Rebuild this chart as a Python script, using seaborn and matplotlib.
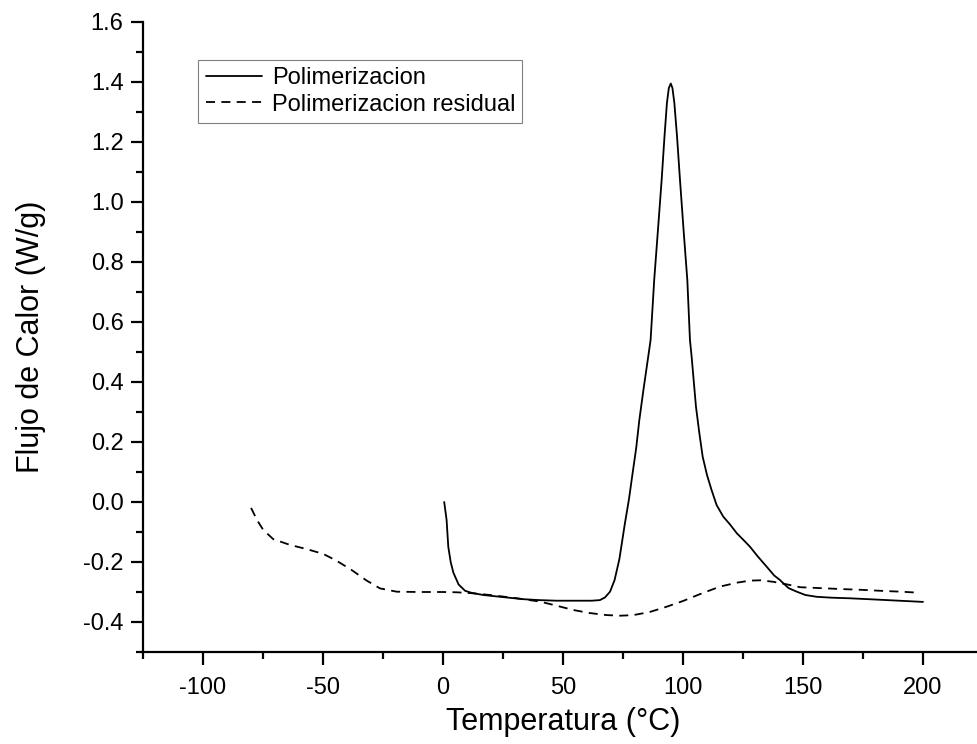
import matplotlib
matplotlib.use("Agg")
import matplotlib.pyplot as plt
import seaborn as sns
import pandas as pd
from matplotlib.ticker import MultipleLocator

# Data
temp_poli = [0.5, 1.5, 2.2, 3.2, 4.3, 6.5, 9.2, 12, 16.8, 25, 33.5, 40, 47.4, 55, 62, 65.4, 67.5,
             69.6, 71.5, 73.5, 75.8, 77.5, 79.0, 80.5, 81.8, 83.5, 85.5, 86.5, 88.0, 89.5, 91.1,
             92.3, 93.3, 94.1, 94.9, 95.6, 96.4, 97.5, 98.75, 100.3, 101.8, 102.9, 103.6, 105.4,
             106.8, 108.2, 110.0, 111.9, 114.0, 116.8, 119.6, 122.4, 125.0, 127.9, 131.0, 134.9,
             138.0, 140.4, 141.8, 144.0, 147.4, 151.0, 155.7, 162.0, 169.6, 180.0, 190.0, 200.0]
flujo_poli = [0.0, -0.06, -0.149, -0.2, -0.235, -0.275, -0.296, -0.303, -0.31, -0.317, -0.324,
              -0.327, -0.329, -0.329, -0.329, -0.327, -0.318, -0.299, -0.26, -0.19, -0.071, 0.01,
              0.096, 0.18, 0.273, 0.373, 0.484, 0.54, 0.74, 0.9, 1.073, 1.22, 1.33, 1.38, 1.395,
              1.38, 1.33, 1.22, 1.073, 0.9, 0.74, 0.54, 0.484, 0.318, 0.23, 0.151, 0.09, 0.04,
              -0.01, -0.049, -0.075, -0.104, -0.125, -0.149, -0.18, -0.216, -0.245, -0.26,
              -0.271, -0.287, -0.299, -0.31, -0.316, -0.319, -0.321, -0.325, -0.329, -0.333]

temp_resid = [-80, -79.7, -77.5, -74.9, -70.7, -63.75, -56.8, -49.9, -44.3, -38.0, -31.8, -26.25,
              -19.3, -10, 0, 5.7, 12, 19.6, 30, 40.4, 47, 54.3, 61, 68.2, 74, 79.3, 86, 93.2,
              100, 107.1, 115.4, 122.4, 127.9, 132.5, 137.6, 143, 148.75, 157, 165.4, 175,
              184.9, 191, 197.4]
flujo_resid = [-0.02, -0.024, -0.06, -0.093, -0.124, -0.143, -0.157, -0.173, -0.196, -0.227,
               -0.262, -0.288, -0.299, -0.3, -0.3, -0.301, -0.304, -0.31, -0.32, -0.332, -0.345,
               -0.36, -0.37, -0.377, -0.379, -0.377, -0.367, -0.349, -0.33, -0.307, -0.282,
               -0.269, -0.262, -0.261, -0.266, -0.274, -0.284, -0.287, -0.29, -0.293, -0.297,
               -0.299, -0.302]

label_poli = "Polimerizacion"
label_resid = "Polimerizacion residual"
x_label = "Temperatura (°C)"
y_label = "Flujo de Calor (W/g)"
x_ticks = [-100, -50, 0, 50, 100, 150, 200]
y_ticks = [-0.4, -0.2, 0.0, 0.2, 0.4, 0.6, 0.8, 1.0, 1.2, 1.4, 1.6]

df_poli = pd.DataFrame({"T": temp_poli, "F": flujo_poli})
df_resid = pd.DataFrame({"T": temp_resid, "F": flujo_resid})

sns.set_style("ticks")
plt.rcParams["font.family"] = ["Liberation Sans", "DejaVu Sans"]
plt.rcParams["text.color"] = "black"
plt.rcParams["axes.labelcolor"] = "black"

fig = plt.figure(figsize=(9.77, 7.44), dpi=100)
ax = fig.add_axes([143 / 977, 92 / 744, 840 / 977, 630 / 744])

sns.lineplot(data=df_poli, x="T", y="F", ax=ax, color="black", linewidth=1.3,
             label=label_poli, sort=False, estimator=None)
sns.lineplot(data=df_resid, x="T", y="F", ax=ax, color="black", linewidth=1.3,
             label=label_resid, sort=False, estimator=None)
ax.lines[1].set_linestyle((0, (5, 3.5)))

ax.set_xlim(-125, 225)
ax.set_ylim(-0.5, 1.6)
ax.set_xticks(x_ticks)
ax.set_yticks(y_ticks)
ax.set_xticklabels([str(t) for t in x_ticks])
ax.set_yticklabels([f"{t:.1f}" for t in y_ticks])
ax.xaxis.set_minor_locator(MultipleLocator(25))
ax.yaxis.set_minor_locator(MultipleLocator(0.1))

for s in ["top", "right"]:
    ax.spines[s].set_visible(False)
for s in ["left", "bottom"]:
    ax.spines[s].set_linewidth(1.6)
    ax.spines[s].set_color("black")

ax.tick_params(axis="both", which="major", direction="out", length=9, width=1.6,
               labelsize=17, colors="black", pad=5)
ax.tick_params(axis="both", which="minor", direction="out", length=5, width=1.6, colors="black")
ax.tick_params(axis="x", which="major", pad=9)

ax.set_xlabel(x_label, fontsize=22, labelpad=6, color="black")
ax.set_ylabel(y_label, fontsize=22, labelpad=27, color="black")

leg = ax.legend(loc="upper left", bbox_to_anchor=(0.066, 0.94), fontsize=17,
                frameon=True, fancybox=False, framealpha=1, edgecolor="#808080",
                handlelength=2.4, handletextpad=0.4, borderpad=0.3, labelspacing=0.2,
                borderaxespad=0)
leg.get_frame().set_linewidth(0.8)
leg.get_lines()[1].set_linestyle((0, (5, 3.5)))
for t in leg.get_texts():
    t.set_color("black")

fig.savefig("out.png", dpi=100)
